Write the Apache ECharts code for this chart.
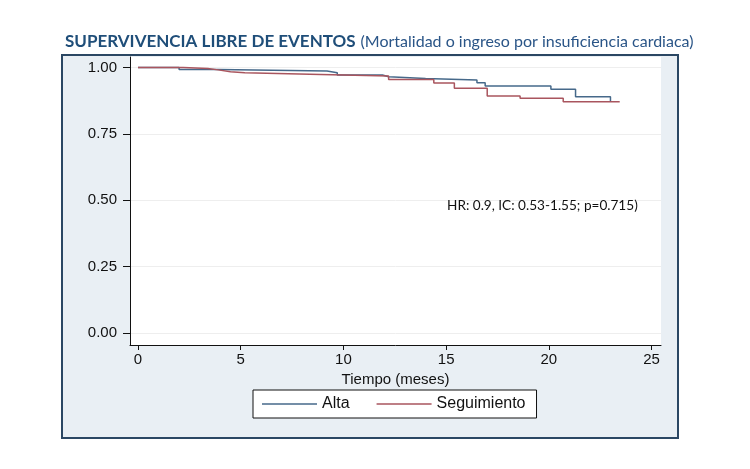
<!DOCTYPE html>
<html><head><meta charset="utf-8">
<script src="https://cdn.jsdelivr.net/npm/echarts@6/dist/echarts.min.js"></script>
<style>html,body{margin:0;padding:0;background:#fff}#c{width:750px;height:469px}</style>
</head><body><div id="c"></div>
<script>
// Kaplan-Meier step data
const altaTimes = [0, 2.0, 3.9, 9.2, 9.7, 11.9, 12.2, 14.0, 16.5, 16.9, 20.1, 21.3, 23.0, 23.0];
const altaSurv  = [1.000, 0.992, 0.987, 0.980, 0.972, 0.965, 0.959, 0.953, 0.943, 0.930, 0.918, 0.890, 0.871, 0.871];
const segTimes  = [0, 2.2, 3.4, 3.9, 4.5, 5.2, 8.9, 12.2, 14.4, 15.4, 17.0, 18.6, 20.7, 23.45];
const segSurv   = [1.000, 0.996, 0.991, 0.984, 0.980, 0.974, 0.968, 0.955, 0.942, 0.922, 0.893, 0.884, 0.871, 0.871];
const xTicks = [0, 5, 10, 15, 20, 25];
const yTicks = [0, 0.25, 0.5, 0.75, 1];
const seriesNames = ['Alta', 'Seguimiento'];
const titleBold = 'SUPERVIVENCIA LIBRE DE EVENTOS';
const titleRest = '(Mortalidad o ingreso por insuficiencia cardiaca)';
const note = 'HR: 0.9, IC: 0.53-1.55; p=0.715)';

const pairs = (t, s) => t.map((v, i) => [v, s[i]]);
const chart = echarts.init(document.getElementById('c'), null, {renderer: 'canvas'});
const axisFont = {fontFamily: 'Liberation Sans, Arial, sans-serif', fontSize: 15, color: '#111'};
chart.setOption({
  animation: false,
  backgroundColor: '#fff',
  title: {
    left: 60, top: 28,
    text: '{b|' + titleBold + '} {n|' + titleRest + '}',
    textStyle: {
      fontWeight: 'normal',
      rich: {
        b: {fontFamily: 'Lato', fontWeight: 'bold', fontSize: 17, color: '#1f4e79'},
        n: {fontFamily: 'Lato', fontWeight: 'normal', fontSize: 16, color: '#2a5587'}
      }
    }
  },
  graphic: [
    {type: 'rect', z: -1, shape: {x: 62, y: 55, width: 616, height: 383},
     style: {fill: '#e9eff4', stroke: '#2b4763', lineWidth: 2}},
    {type: 'text', z: 10, left: 447, top: 199,
     style: {text: note, font: '13.6px Lato', fill: '#111'}}
  ],
  grid: {left: 130, right: 89, top: 57, bottom: 124, show: true, backgroundColor: '#fff', borderWidth: 0},
  legend: {
    data: seriesNames, left: 253, top: 390, icon: 'rect',
    backgroundColor: '#fff', borderColor: '#111', borderWidth: 1, borderRadius: 0,
    padding: [6, 11, 6, 9], itemGap: 27, itemWidth: 55, itemHeight: 1.5,
    textStyle: {fontFamily: 'Liberation Sans, Arial, sans-serif', fontSize: 16, color: '#111'}
  },
  xAxis: {
    type: 'value', min: -0.39, max: 25.46,
    name: 'Tiempo (meses)', nameLocation: 'middle', nameGap: 25,
    nameTextStyle: axisFont,
    axisLine: {onZero: false, lineStyle: {color: '#111', width: 1}},
    axisTick: {customValues: xTicks, length: 5, lineStyle: {color: '#111'}},
    axisLabel: Object.assign({customValues: xTicks, margin: 7}, axisFont),
    splitLine: {show: false}
  },
  yAxis: {
    type: 'value', min: -0.045, max: 1.0395,
    axisLine: {show: true, onZero: false, lineStyle: {color: '#111', width: 1}},
    axisTick: {show: true, customValues: yTicks, length: 7, lineStyle: {color: '#111'}},
    axisLabel: Object.assign({customValues: yTicks, margin: 13, formatter: v => v.toFixed(2)}, axisFont),
    splitLine: {show: true, customValues: yTicks, lineStyle: {color: '#eeeeee', width: 1}}
  },
  series: [
    {name: seriesNames[0], type: 'line', step: 'end', symbol: 'none', data: pairs(altaTimes, altaSurv),
     lineStyle: {color: '#46698a', width: 1.5}, itemStyle: {color: '#46698a'}},
    {name: seriesNames[1], type: 'line', step: 'end', symbol: 'none', data: pairs(segTimes, segSurv),
     lineStyle: {color: '#a9555e', width: 1.5}, itemStyle: {color: '#a9555e'}}
  ]
});
</script></body></html>
